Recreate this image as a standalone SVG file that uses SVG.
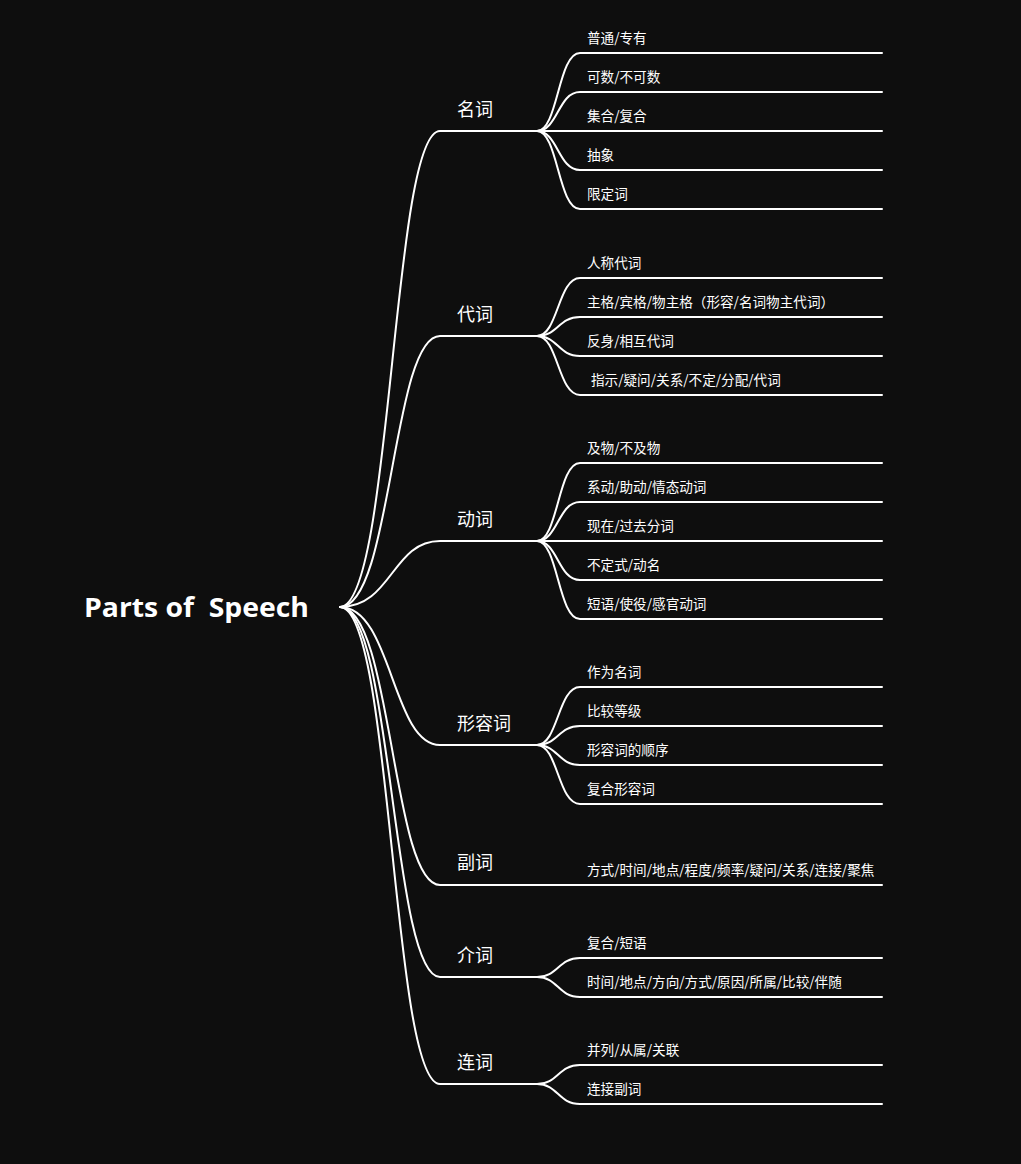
<svg xmlns="http://www.w3.org/2000/svg" width="1021" height="1164" viewBox="0 0 1021 1164">
<style>
.bg{fill:#0e0e0e}
.ln{fill:none;stroke:#ffffff;stroke-width:2;stroke-linecap:round}
.root{font-family:"Open Sans","Liberation Sans",sans-serif;font-weight:700;font-size:26px;fill:#ffffff}
.br{font-family:"Noto Sans CJK SC","Noto Sans",sans-serif;font-size:18px;fill:#ffffff}
.lf{font-family:"Noto Sans CJK SC","Noto Sans",sans-serif;font-size:13.6px;fill:#ffffff}
</style>
<rect class="bg" x="0" y="0" width="1021" height="1164"/>
<g id="connectors">
  <path class="ln" d="M340,607 C392,607 392,131 440,131 H537"/>
  <path class="ln" d="M340,607 C392,607 392,336 440,336 H537"/>
  <path class="ln" d="M340,607 C392,607 392,541 440,541 H537"/>
  <path class="ln" d="M340,607 C392,607 392,745 440,745 H537"/>
  <path class="ln" d="M340,607 C392,607 392,885 440,885 H537"/>
  <path class="ln" d="M340,607 C392,607 392,977 440,977 H537"/>
  <path class="ln" d="M340,607 C392,607 392,1084 440,1084 H537"/>
  <path class="ln" d="M537,131 C558,131 558,53 580,53 H882"/>
  <path class="ln" d="M537,131 C558,131 558,92 580,92 H882"/>
  <path class="ln" d="M537,131 C558,131 558,131 580,131 H882"/>
  <path class="ln" d="M537,131 C558,131 558,170 580,170 H882"/>
  <path class="ln" d="M537,131 C558,131 558,209 580,209 H882"/>
  <path class="ln" d="M537,336 C558,336 558,278 580,278 H882"/>
  <path class="ln" d="M537,336 C558,336 558,317 580,317 H882"/>
  <path class="ln" d="M537,336 C558,336 558,356 580,356 H882"/>
  <path class="ln" d="M537,336 C558,336 558,395 580,395 H882"/>
  <path class="ln" d="M537,541 C558,541 558,463 580,463 H882"/>
  <path class="ln" d="M537,541 C558,541 558,502 580,502 H882"/>
  <path class="ln" d="M537,541 C558,541 558,541 580,541 H882"/>
  <path class="ln" d="M537,541 C558,541 558,580 580,580 H882"/>
  <path class="ln" d="M537,541 C558,541 558,619 580,619 H882"/>
  <path class="ln" d="M537,745 C558,745 558,687 580,687 H882"/>
  <path class="ln" d="M537,745 C558,745 558,726 580,726 H882"/>
  <path class="ln" d="M537,745 C558,745 558,765 580,765 H882"/>
  <path class="ln" d="M537,745 C558,745 558,804 580,804 H882"/>
  <path class="ln" d="M537,885 H882"/>
  <path class="ln" d="M537,977 C558,977 558,958 580,958 H882"/>
  <path class="ln" d="M537,977 C558,977 558,997 580,997 H882"/>
  <path class="ln" d="M537,1084 C558,1084 558,1065 580,1065 H882"/>
  <path class="ln" d="M537,1084 C558,1084 558,1104 580,1104 H882"/>
</g>
<g id="root"><text class="root" x="84" y="617" xml:space="preserve" textLength="225" lengthAdjust="spacingAndGlyphs">Parts of  Speech</text></g>
<g id="n-mingci">
  <text class="br" x="457" y="116">名词</text>
  <text class="lf" x="587" y="43">普通/专有</text>
  <text class="lf" x="587" y="82">可数/不可数</text>
  <text class="lf" x="587" y="121">集合/复合</text>
  <text class="lf" x="587" y="160">抽象</text>
  <text class="lf" x="587" y="199">限定词</text>
</g>
<g id="n-daici">
  <text class="br" x="457" y="321">代词</text>
  <text class="lf" x="587" y="268">人称代词</text>
  <text class="lf" x="587" y="307">主格/宾格/物主格（形容/名词物主代词）</text>
  <text class="lf" x="587" y="346">反身/相互代词</text>
  <text class="lf" x="591" y="385">指示/疑问/关系/不定/分配/代词</text>
</g>
<g id="n-dongci">
  <text class="br" x="457" y="526">动词</text>
  <text class="lf" x="587" y="453">及物/不及物</text>
  <text class="lf" x="587" y="492">系动/助动/情态动词</text>
  <text class="lf" x="587" y="531">现在/过去分词</text>
  <text class="lf" x="587" y="570">不定式/动名</text>
  <text class="lf" x="587" y="609">短语/使役/感官动词</text>
</g>
<g id="n-xingrongci">
  <text class="br" x="457" y="730">形容词</text>
  <text class="lf" x="587" y="677">作为名词</text>
  <text class="lf" x="587" y="716">比较等级</text>
  <text class="lf" x="587" y="755">形容词的顺序</text>
  <text class="lf" x="587" y="794">复合形容词</text>
</g>
<g id="n-fuci">
  <text class="br" x="457" y="869">副词</text>
  <text class="lf" x="587" y="875">方式/时间/地点/程度/频率/疑问/关系/连接/聚焦</text>
</g>
<g id="n-jieci">
  <text class="br" x="457" y="962">介词</text>
  <text class="lf" x="587" y="948">复合/短语</text>
  <text class="lf" x="587" y="987">时间/地点/方向/方式/原因/所属/比较/伴随</text>
</g>
<g id="n-lianci">
  <text class="br" x="457" y="1069">连词</text>
  <text class="lf" x="587" y="1055">并列/从属/关联</text>
  <text class="lf" x="587" y="1094">连接副词</text>
</g>
</svg>
